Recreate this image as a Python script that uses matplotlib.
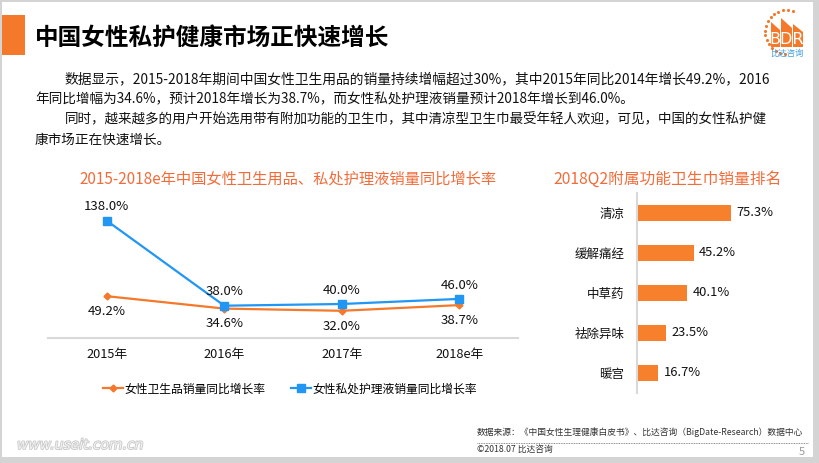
import numpy as np
import matplotlib
matplotlib.use("Agg")
import matplotlib.pyplot as plt
from matplotlib.patches import Rectangle, Polygon
from matplotlib.lines import Line2D
import matplotlib.patheffects as pe

plt.rcParams['font.family'] = ['Noto Sans CJK SC', 'DejaVu Sans']

# ---- data ----
years = ["2015年", "2016年", "2017年", "2018e年"]
hygiene_growth = [49.2, 34.6, 32.0, 38.7]      # 女性卫生品销量同比增长率
care_growth = [138.0, 38.0, 40.0, 46.0]        # 女性私处护理液销量同比增长率
series_names = ["女性卫生品销量同比增长率", "女性私处护理液销量同比增长率"]

func_names = ["清凉", "缓解痛经", "中草药", "祛除异味", "暖宫"]
func_share = [75.3, 45.2, 40.1, 23.5, 16.7]

title = "中国女性私护健康市场正快速增长"
para_lines = [
    "数据显示，2015-2018年期间中国女性卫生用品的销量持续增幅超过30%，其中2015年同比2014年增长49.2%，2016",
    "年同比增幅为34.6%，预计2018年增长为38.7%，而女性私处护理液销量预计2018年增长到46.0%。",
    "同时，越来越多的用户开始选用带有附加功能的卫生巾，其中清凉型卫生巾最受年轻人欢迎，可见，中国的女性私护健",
    "康市场正在快速增长。",
]
line_title = "2015-2018e年中国女性卫生用品、私处护理液销量同比增长率"
bar_title = "2018Q2附属功能卫生巾销量排名"
source = "数据来源：《中国女性生理健康白皮书》、比达咨询（BigDate-Research）数据中心"
copyright_txt = "©2018.07 比达咨询"

ORANGE = "#F5792A"
BAR_ORANGE = "#F7802C"
TITLE_ORANGE = "#F26C3A"
BLUE = "#2196F3"
GRID = "#D9D9D9"
W, H = 819, 463

fig = plt.figure(figsize=(W / 100, H / 100), dpi=100, facecolor="#D4D4D4")

# overlay in pixel coordinates for slide decoration
bg = fig.add_axes([0, 0, 1, 1], zorder=0)
bg.set_xlim(0, W)
bg.set_ylim(H, 0)
bg.axis("off")
bg.add_patch(Rectangle((2, 2), 811, 455, facecolor="white", edgecolor="none"))
bg.add_patch(Rectangle((2, 15), 23, 40, facecolor=ORANGE, edgecolor="none"))
bg.text(35, 38, title, fontsize=17, fontweight="bold", va="center", ha="left", color="black")

# paragraph, lines 1 and 3 stretched to the justified right edge
para_x = [65, 35, 65, 35]
para_y = [79, 99, 119, 140]
para_right = [772, None, 771, None]
renderer = fig.canvas.get_renderer()
for x, y, s, r in zip(para_x, para_y, para_lines, para_right):
    t = bg.text(x, y, s, fontsize=9.8, va="center", ha="left", color="#111111")
    if r is not None:
        w = t.get_window_extent(renderer).width
        t.set_fontsize(9.8 * (r - x) / w)

bg.text(288, 179, line_title, fontsize=11, color=TITLE_ORANGE, ha="center", va="center")
bg.text(667, 179, bar_title, fontsize=11.3, color=TITLE_ORANGE, ha="center", va="center")

# logo
ang = np.linspace(np.deg2rad(75), np.deg2rad(265), 16)
bg.scatter(787 + 22 * np.cos(ang), 32 - 22 * np.sin(ang), s=5, color=ORANGE, lw=0)
bg.add_patch(Polygon([(771, 47), (771, 22), (780, 30), (780, 47)], color=ORANGE, lw=0))
bg.add_patch(Polygon([(781, 47), (781, 18), (792, 28), (792, 47)], color=ORANGE, lw=0))
bg.add_patch(Polygon([(793, 47), (793, 24), (803, 32), (803, 47)], color=ORANGE, lw=0))
bg.text(787, 40, "BDR", fontsize=11.5, color="white", ha="center", va="center", family="DejaVu Sans")
bg.text(787, 53, "比达咨询", fontsize=6, color="#3FA0E0", ha="center", va="center")

# footer
bg.text(477, 432, source, fontsize=6.3, color="#333333", ha="left", va="center")
bg.plot([477, 808], [443, 443], color="#666666", lw=0.6, ls=(0, (1, 1)))
bg.text(477, 449, copyright_txt, fontsize=6.3, color="#333333", ha="left", va="center")
bg.text(805, 452, "5", fontsize=8, color="#999999", ha="right", va="center")
bg.text(17, 445, "www.useit.com.cn", fontsize=10, color="#F2F2F2", ha="left", va="center",
        fontstyle="italic", family="DejaVu Sans",
        path_effects=[pe.withStroke(linewidth=1.2, foreground="#C8C8C8")])


def px_axes(left, top, right, bottom):
    return fig.add_axes([left / W, 1 - bottom / H, (right - left) / W, (bottom - top) / H], zorder=2)


# ---- line chart ----
ax = px_axes(48, 202, 518, 338)
ax.patch.set_alpha(0)
x = np.arange(len(years))
ax.plot(x, care_growth, color=BLUE, lw=1.6, marker="s", ms=5.5, zorder=3)
ax.plot(x, hygiene_growth, color=ORANGE, lw=1.6, marker="D", ms=3.5, zorder=2)
for xi, v in zip(x, care_growth):
    ax.annotate(f"{v:.1f}%", (xi, v), xytext=(0, 10), textcoords="offset points",
                ha="center", va="center", fontsize=9.5, color="#111111")
for xi, v in zip(x, hygiene_growth):
    ax.annotate(f"{v:.1f}%", (xi, v), xytext=(0, -11), textcoords="offset points",
                ha="center", va="center", fontsize=9.5, color="#111111")
ax.set_xlim(-0.5, 3.5)
ax.set_ylim(0, 160)
ax.set_xticks(x)
ax.set_xticklabels(years, fontsize=9.2, color="#111111")
ax.tick_params(axis="x", length=0, pad=7)
ax.set_yticks([])
for side in ["left", "right", "top"]:
    ax.spines[side].set_visible(False)
ax.spines["bottom"].set_color(GRID)
ax.spines["bottom"].set_linewidth(1.5)

handles = [
    Line2D([], [], color=ORANGE, lw=1.6, marker="D", ms=3.5),
    Line2D([], [], color=BLUE, lw=1.6, marker="s", ms=5.5),
]
fig.legend(handles, series_names, loc="center", bbox_to_anchor=(290 / W, 1 - 389 / H),
           ncol=2, frameon=False, fontsize=8.5, handlelength=1.7, handletextpad=0.1,
           columnspacing=2.2)

# ---- bar chart ----
bx = px_axes(637, 193, 762, 393)
bx.patch.set_alpha(0)
y = np.arange(len(func_names))
bx.barh(y, func_share, height=0.4, color=BAR_ORANGE)
for yi, v in zip(y, func_share):
    bx.annotate(f"{v:.1f}%", (v, yi), xytext=(4, 0), textcoords="offset points",
                ha="left", va="center", fontsize=9.3, color="#111111")
bx.set_xlim(0, 100)
bx.set_ylim(len(func_names) - 0.5, -0.5)
bx.set_yticks(y)
bx.set_yticklabels(func_names, fontsize=9, color="#111111")
bx.tick_params(axis="y", length=0, pad=9)
bx.set_xticks([])
for side in ["bottom", "right", "top"]:
    bx.spines[side].set_visible(False)
bx.spines["left"].set_color(GRID)
bx.spines["left"].set_linewidth(1.5)

fig.savefig("out.png", dpi=100, facecolor=fig.get_facecolor())
